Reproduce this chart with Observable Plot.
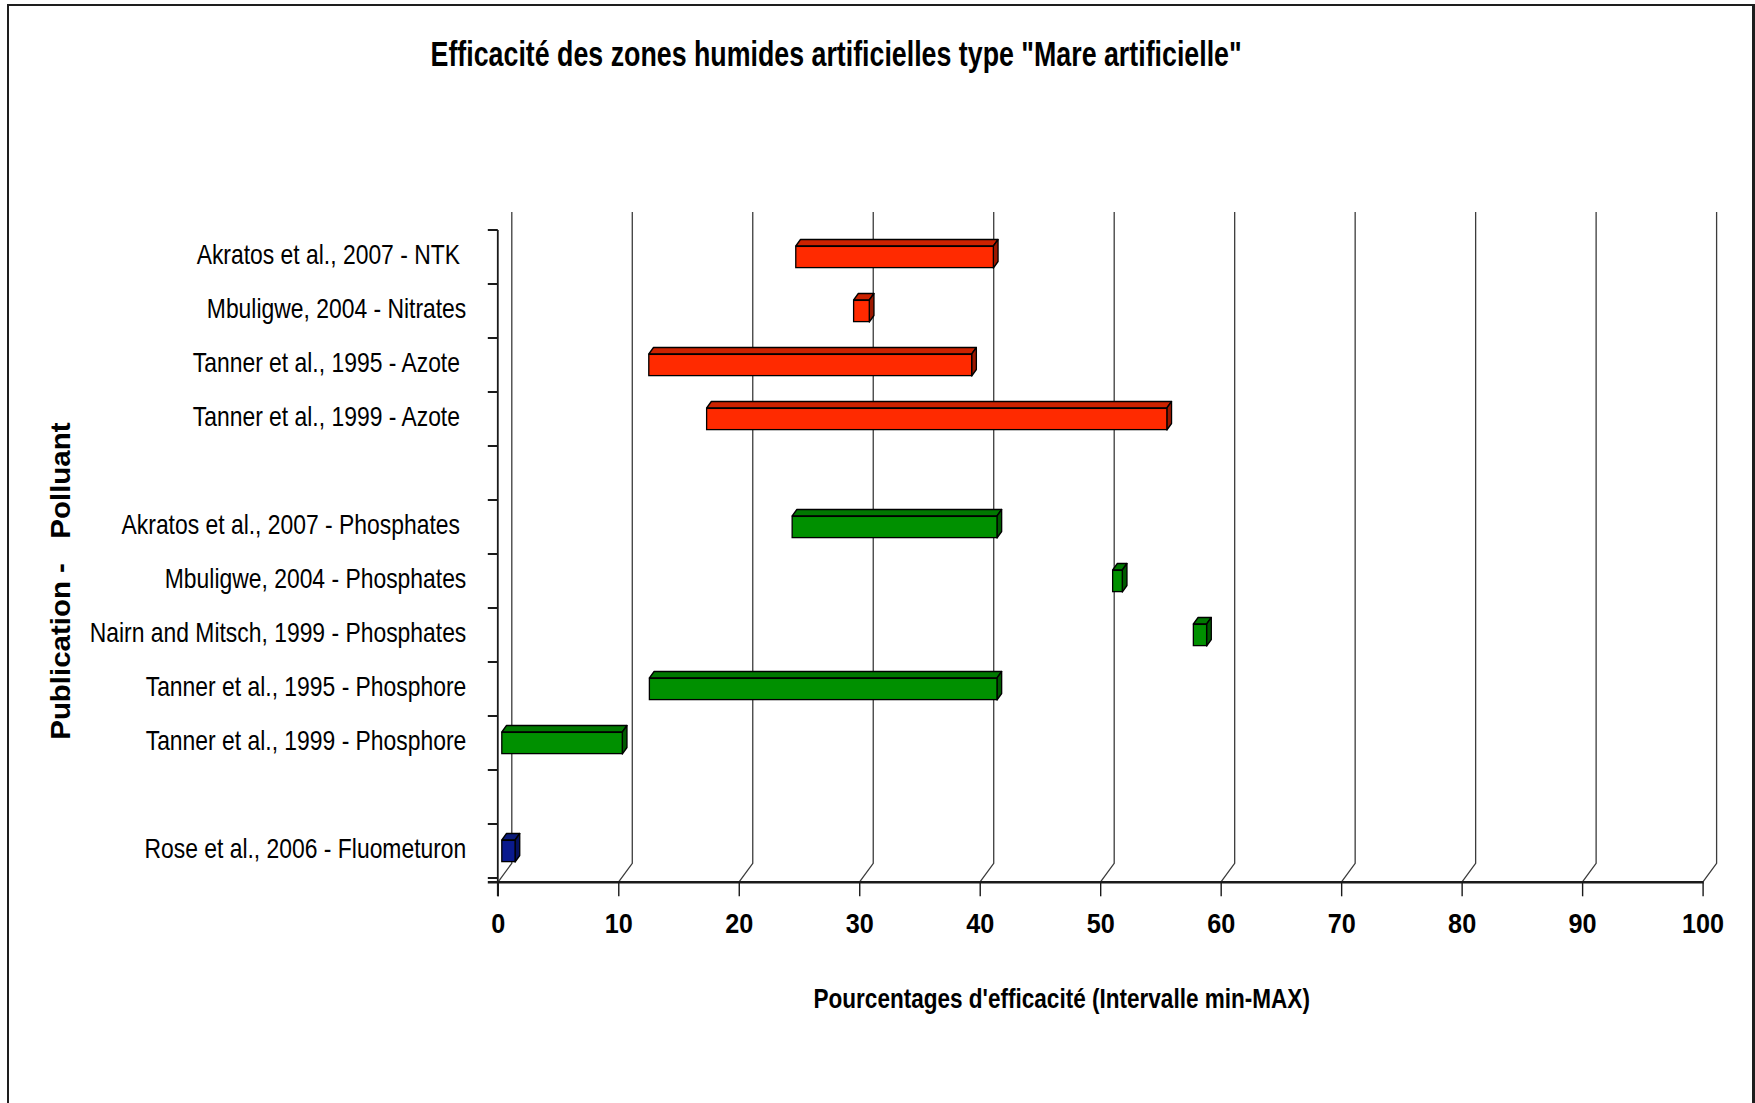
<!DOCTYPE html>
<html>
<head>
<meta charset="utf-8">
<script src="https://cdn.jsdelivr.net/npm/d3@7"></script>
<script src="https://cdn.jsdelivr.net/npm/@observablehq/plot@0.6"></script>
<style>
  html, body { margin: 0; padding: 0; background: #fff; }
  #wrap { position: relative; width: 1755px; height: 1103px; overflow: hidden; background: #fff; }
  #frame { position: absolute; left: 7px; top: 4px; width: 1748px; height: 1200px; border: 2px solid #1e1e1e; border-right-width: 3px; box-sizing: border-box; }
  #title { position: absolute; left: 0; top: 35.5px; width: 1673px; margin: 0; text-align: center;
           font-family: 'Liberation Sans', Arial, sans-serif;
           font-weight: bold; font-size: 35px; line-height: 35px; color: #000; white-space: pre; }
  #title span { display: inline-block; transform: scaleX(0.765); transform-origin: 50% 50%; }
  #chart { position: absolute; left: 0; top: 110px; }
</style>
</head>
<body>
<div id="wrap">
  <div id="frame"></div>
  <h1 id="title"><span></span></h1>
  <div id="chart"></div>
</div>
<script>
// ---------- data ----------
const titleText = "Efficacité des zones humides artificielles type \"Mare artificielle\"";
const xTitle = "Pourcentages d'efficacité (Intervalle min-MAX)";
const yTitle = "Publication -\u00a0\u00a0\u00a0Polluant";

const labels = [
  "Akratos et al., 2007 - NTK\u00a0",
  "Mbuligwe, 2004 - Nitrates",
  "Tanner et al., 1995 - Azote\u00a0",
  "Tanner et al., 1999 - Azote\u00a0",
  "",
  "Akratos et al., 2007 - Phosphates\u00a0",
  "Mbuligwe, 2004 - Phosphates",
  "Nairn and Mitsch, 1999 - Phosphates",
  "Tanner et al., 1995 - Phosphore",
  "Tanner et al., 1999 - Phosphore",
  "",
  "Rose et al., 2006 - Fluometuron"
];
const minValues = [24.4, 29.2, 12.2, 17.0, null, 24.1, 50.7, 57.4, 12.25, 0.0, null, 0.0];
const maxValues = [40.8, 30.5, 39.0, 55.2, null, 41.1, 51.5, 58.5, 41.1, 10.0, null, 1.1];
const groups    = ["Azote", "Azote", "Azote", "Azote", null, "Phosphore", "Phosphore", "Phosphore", "Phosphore", "Phosphore", null, "Pesticide"];
const xTicks = [0, 10, 20, 30, 40, 50, 60, 70, 80, 90, 100];

// ---------- styles ----------
const frontColor = {Azote: "#ff2a00", Phosphore: "#009000", Pesticide: "#0a1a8e"};
const topColor   = {Azote: "#cc2200", Phosphore: "#007800", Pesticide: "#0a1a7a"};
const sideColor  = {Azote: "#9c1800", Phosphore: "#005a00", Pesticide: "#061260"};
const font = "'Liberation Sans', Arial, sans-serif";

document.querySelector("#title span").textContent = titleText;

const rows = labels.map((label, i) => ({i, label, min: minValues[i], max: maxValues[i], group: groups[i]}))
                   .filter(d => d.min != null);

// depth of the 3D floor and of the bars
const FLOOR_DX = 14, FLOOR_DY = 19, BAR_DX = 4.7, BAR_DY = 6.5, BAR_SHIFT = 4, BAR_H = 22;

function gridMark(index, scales, values, dims) {
  const {x} = scales;
  const g = d3.create("svg:g");
  const base = dims.height - dims.marginBottom;
  const top = dims.marginTop - 13;
  for (const v of xTicks) {
    const px = x(v);
    g.append("path")
      .attr("d", `M${px},${base}L${px + FLOOR_DX},${base - FLOOR_DY}L${px + FLOOR_DX},${top}`)
      .attr("fill", "none").attr("stroke", "#3c3c3c").attr("stroke-width", 1.3);
  }
  return g.node();
}

function axesMark(index, scales, values, dims) {
  const {x, y} = scales;
  const g = d3.create("svg:g").attr("stroke", "#1a1a1a");
  const base = dims.height - dims.marginBottom;
  const bw = typeof y.bandwidth === "function" ? y.bandwidth() : (y(1) - y(0));
  const x0 = x(0);
  const bounds = labels.map((_, i) => y(i)).concat([y(labels.length - 1) + bw]);
  for (const b of bounds) {
    g.append("line").attr("x1", x0 - 10).attr("x2", x0).attr("y1", b).attr("y2", b).attr("stroke-width", 2);
  }
  g.append("line").attr("x1", x0).attr("x2", x0).attr("y1", bounds[0]).attr("y2", base + 14).attr("stroke-width", 1.8);
  g.append("line").attr("x1", x0 - 10).attr("x2", x(100) + 1).attr("y1", base).attr("y2", base).attr("stroke-width", 2.6);
  return g.node();
}

function facesMark(index, scales, values, dims) {
  const {x, y} = scales;
  const g = d3.create("svg:g").attr("stroke", "#000").attr("stroke-width", 1.3).attr("stroke-linejoin", "round");
  const bw = typeof y.bandwidth === "function" ? y.bandwidth() : (y(1) - y(0));
  const inset = (bw - BAR_H) / 2;
  for (const d of rows) {
    const x1 = x(d.min) + BAR_SHIFT, x2 = x(d.max) + BAR_SHIFT;
    const yt = y(d.i) + inset, yb = y(d.i) + bw - inset;
    g.append("path").attr("fill", topColor[d.group])
      .attr("d", `M${x1},${yt}L${x2},${yt}L${x2 + BAR_DX},${yt - BAR_DY}L${x1 + BAR_DX},${yt - BAR_DY}Z`);
    g.append("path").attr("fill", sideColor[d.group])
      .attr("d", `M${x2},${yt}L${x2 + BAR_DX},${yt - BAR_DY}L${x2 + BAR_DX},${yb - BAR_DY}L${x2},${yb}Z`);
  }
  return g.node();
}

const W = 1755, H = 993;
const bandH = (H - 115 - 220.7) / labels.length;
const chart = Plot.plot({
  width: W,
  height: H,
  marginLeft: 497.8,
  marginRight: 52.4,
  marginTop: 115,
  marginBottom: 220.7,
  style: {fontFamily: font, background: "transparent", color: "#000", overflow: "visible"},
  x: {domain: [0, 100]},
  y: {type: "band", domain: d3.range(labels.length), padding: 0},
  color: {type: "identity"},
  marks: [
    gridMark,
    axesMark,
    facesMark,
    Plot.barX(rows, {
      x1: "min", x2: "max", y: "i",
      fill: d => frontColor[d.group],
      stroke: "#000", strokeWidth: 1.3,
      insetTop: (bandH - BAR_H) / 2, insetBottom: (bandH - BAR_H) / 2,
      dx: BAR_SHIFT
    }),
    Plot.axisY({
      tickSize: 0, tickPadding: 32, dy: -3,
      tickFormat: i => labels[i],
      fontSize: 28.5, label: null, fill: "#000"
    }),
    Plot.axisX({
      ticks: xTicks, tickSize: 14, tickPadding: 16,
      fontSize: 28, fontWeight: "bold", label: null,
      stroke: "#1a1a1a", strokeWidth: 1.4, fill: "#000"
    }),
    Plot.text([xTitle], {
      frameAnchor: "bottom", lineAnchor: "middle", textAnchor: "middle", dx: -39, dy: 116,
      fontSize: 28, fontWeight: "bold", fill: "#000"
    }),
    Plot.text([yTitle], {
      frameAnchor: "left", lineAnchor: "middle", textAnchor: "middle", dx: -437, dy: 27, rotate: -90,
      fontSize: 27, fontWeight: "bold", fill: "#000"
    })
  ]
});
document.getElementById("chart").appendChild(chart);

// emulate the condensed (narrow) typeface of the original
function condenseEl(t, factor) {
  if (!t.textContent) return;
  const len = t.getComputedTextLength();
  if (!(len > 0)) return;
  t.setAttribute("textLength", (len * factor).toFixed(2));
  t.setAttribute("lengthAdjust", "spacingAndGlyphs");
}
const yLabelSet = new Set(labels.filter(s => s));
const xTickSet = new Set(xTicks.map(String));
chart.querySelectorAll("text").forEach(t => {
  const s = t.textContent;
  if (yLabelSet.has(s)) condenseEl(t, 0.803);
  else if (xTickSet.has(s)) condenseEl(t, 0.9);
  else if (s === xTitle) condenseEl(t, 0.805);
  else if (s === yTitle) condenseEl(t, 1.09);
});
</script>
</body>
</html>
